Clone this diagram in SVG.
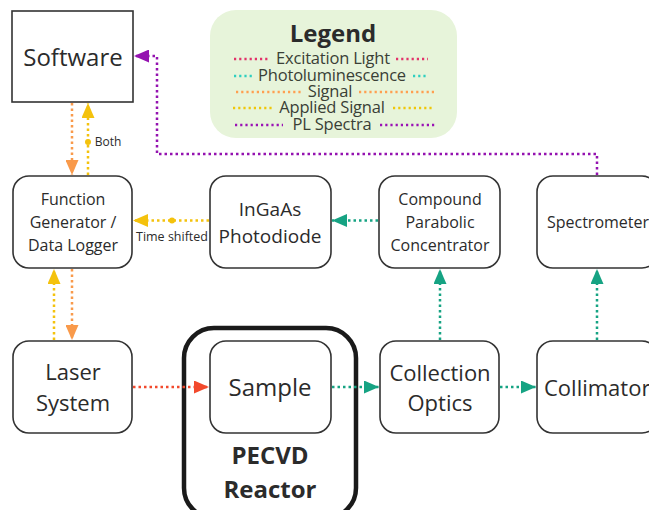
<svg xmlns="http://www.w3.org/2000/svg" width="649" height="510" viewBox="0 0 649 510">
<style>
.box{fill:#fff;stroke:#333;stroke-width:1.6}
.t{font-family:"Open Sans","Liberation Sans",sans-serif;fill:#2b2b2b;text-anchor:middle}
.lg{font-family:"Open Sans","Liberation Sans",sans-serif;fill:#3a3f36;font-size:16.5px;letter-spacing:-0.2px;text-anchor:middle}
.c{fill:none;stroke-width:2.5;stroke-dasharray:2.5 3}
.ld{fill:none;stroke-width:2.5;stroke-dasharray:2.2 3}
.or{stroke:#f99a4b}.ye{stroke:#f4c20d}.rd{stroke:#f2492c}.tl{stroke:#16a383}.pu{stroke:#9412b0}
</style>
<defs>
<marker id="aor" markerUnits="userSpaceOnUse" markerWidth="16" markerHeight="13" refX="15" refY="6.5" orient="auto"><path d="M0,0 L15,6.5 L0,13 z" fill="#f99a4b"/></marker>
<marker id="aye" markerUnits="userSpaceOnUse" markerWidth="16" markerHeight="13" refX="15" refY="6.5" orient="auto"><path d="M0,0 L15,6.5 L0,13 z" fill="#f4c20d"/></marker>
<marker id="ard" markerUnits="userSpaceOnUse" markerWidth="16" markerHeight="13" refX="15" refY="6.5" orient="auto"><path d="M0,0 L15,6.5 L0,13 z" fill="#f2492c"/></marker>
<marker id="atl" markerUnits="userSpaceOnUse" markerWidth="16" markerHeight="13" refX="15" refY="6.5" orient="auto"><path d="M0,0 L15,6.5 L0,13 z" fill="#16a383"/></marker>
<marker id="apu" markerUnits="userSpaceOnUse" markerWidth="16" markerHeight="13" refX="15" refY="6.5" orient="auto"><path d="M0,0 L15,6.5 L0,13 z" fill="#9412b0"/></marker>
</defs>
<rect width="649" height="510" fill="#fff"/>

<g id="legend">
<rect x="210" y="10" width="247" height="128" rx="26" fill="#e7f4da"/>
<text class="t" x="333" y="42" font-size="24" font-weight="bold" fill="#1e1e1e">Legend</text>
<text class="lg" x="333" y="64">Excitation Light</text>
<text class="lg" x="332" y="81">Photoluminescence</text>
<text class="lg" x="330" y="97">Signal</text>
<text class="lg" x="332" y="113">Applied Signal</text>
<text class="lg" x="332" y="130">PL Spectra</text>
<path class="ld" stroke="#e2326a" d="M234,59 H270 M396,59 H428"/>
<path class="ld" stroke="#2ecfc0" d="M234,76 H254 M413,76 H428"/>
<path class="ld" stroke="#ff9f50" d="M236,92 H303 M359,92 H434"/>
<path class="ld" stroke="#efc70a" d="M233,108 H274 M393,108 H433"/>
<path class="ld" stroke="#9a12b5" d="M235,125 H283 M380,125 H437"/>
</g>

<g id="software"><rect x="12" y="11" width="121" height="91" fill="#fff" stroke="#333" stroke-width="1.6"/>
<text class="t" x="73" y="66" font-size="24">Software</text></g>

<g id="funcgen"><rect class="box" x="13" y="176" width="119" height="92" rx="16"/>
<text class="t" x="73" y="205" font-size="16">Function</text>
<text class="t" x="73" y="228" font-size="16">Generator /</text>
<text class="t" x="73" y="251" font-size="16">Data Logger</text></g>

<g id="ingaas"><rect class="box" x="210" y="176" width="121" height="92" rx="16"/>
<text class="t" x="270" y="216" font-size="19">InGaAs</text>
<text class="t" x="270" y="243" font-size="19">Photodiode</text></g>

<g id="cpc"><rect class="box" x="379" y="176" width="121" height="92" rx="16"/>
<text class="t" x="440" y="205" font-size="16">Compound</text>
<text class="t" x="440" y="228" font-size="16">Parabolic</text>
<text class="t" x="440" y="251" font-size="16">Concentrator</text></g>

<g id="spectrometer"><rect class="box" x="537" y="176" width="121" height="92" rx="16"/>
<text class="t" x="598" y="228" font-size="16">Spectrometer</text></g>

<g id="laser"><rect class="box" x="13" y="341" width="119" height="92" rx="16"/>
<text class="t" x="73" y="380" font-size="22">Laser</text>
<text class="t" x="73" y="411" font-size="22">System</text></g>

<g id="pecvd"><rect x="184" y="328" width="172" height="190" rx="30" fill="#fff" stroke="#1a1a1a" stroke-width="4.5"/>
<text class="t" x="270" y="464" font-size="24" font-weight="bold" fill="#1e1e1e">PECVD</text>
<text class="t" x="270" y="498" font-size="24" font-weight="bold" fill="#1e1e1e">Reactor</text></g>

<g id="sample"><rect class="box" x="210" y="341" width="121" height="92" rx="16"/>
<text class="t" x="270" y="396" font-size="24">Sample</text></g>

<g id="collection"><rect class="box" x="380" y="341" width="119" height="92" rx="16"/>
<text class="t" x="440" y="381" font-size="22">Collection</text>
<text class="t" x="440" y="411" font-size="22">Optics</text></g>

<g id="collimator"><rect class="box" x="537" y="341" width="121" height="92" rx="16"/>
<text x="544" y="396" font-size="22" font-family="Open Sans, Liberation Sans, sans-serif" fill="#2b2b2b">Collimator</text></g>

<g id="connectors">
<path class="c or" d="M72,103 V175" marker-end="url(#aor)"/>
<path class="c ye" d="M88,175 V103" marker-end="url(#aye)"/>
<circle cx="88" cy="142" r="3" fill="#f4c20d"/>
<text class="t" x="108" y="146" font-size="12" fill="#333">Both</text>
<path class="c ye" d="M209,220.5 H133" marker-end="url(#aye)"/>
<circle cx="172" cy="220.5" r="3" fill="#f4c20d"/>
<text class="t" x="172" y="241" font-size="12.5" fill="#333">Time shifted</text>
<path class="c tl" d="M378,220.5 H332" marker-end="url(#atl)"/>
<path class="c tl" d="M440,340 V269" marker-end="url(#atl)"/>
<path class="c tl" d="M597,340 V269" marker-end="url(#atl)"/>
<path class="c pu" d="M597,175 V154 H157 V56 H134" marker-end="url(#apu)"/>
<path class="c rd" d="M133,387 H209" marker-end="url(#ard)"/>
<path class="c tl" d="M332,387 H379" marker-end="url(#atl)"/>
<path class="c tl" d="M500,387 H536" marker-end="url(#atl)"/>
<path class="c ye" d="M54,340 V269" marker-end="url(#aye)"/>
<path class="c or" d="M72,269 V340" marker-end="url(#aor)"/>
</g>
</svg>
